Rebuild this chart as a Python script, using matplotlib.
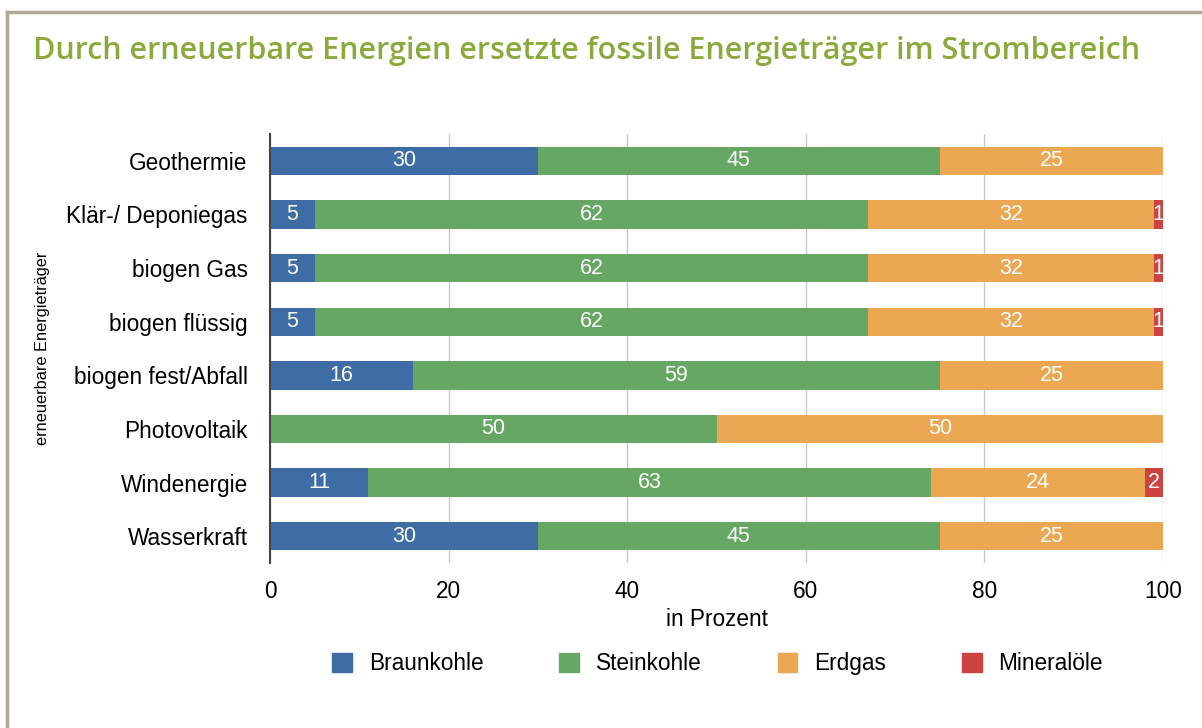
import matplotlib.pyplot as plt
from matplotlib.lines import Line2D
from matplotlib.patches import Patch

plt.rcParams['font.family'] = ['Liberation Sans', 'DejaVu Sans']

# categories from top to bottom
categories = ["Geothermie", "Klär-/ Deponiegas", "biogen Gas", "biogen flüssig",
              "biogen fest/Abfall", "Photovoltaik", "Windenergie", "Wasserkraft"]
braunkohle = [30, 5, 5, 5, 16, 0, 11, 30]
steinkohle = [45, 62, 62, 62, 59, 50, 63, 45]
erdgas = [25, 32, 32, 32, 25, 50, 24, 25]
mineraloele = [0, 1, 1, 1, 0, 0, 2, 0]

series_names = ["Braunkohle", "Steinkohle", "Erdgas", "Mineralöle"]
colors = ["#3e6da6", "#67a764", "#eba752", "#cc4441"]

fig = plt.figure(figsize=(12.02, 7.28), dpi=100)
ax = fig.add_axes([0.2246, 0.2266, 0.743, 0.5893])

y = list(range(len(categories)))
left = [0] * len(categories)
for vals, col in zip([braunkohle, steinkohle, erdgas, mineraloele], colors):
    ax.barh(y, vals, left=left, height=0.53, color=col, zorder=2)
    for i, v in enumerate(vals):
        if v > 0:
            ax.text(left[i] + v / 2, i, str(v), ha="center", va="center",
                    color="white", fontsize=15.5, zorder=3)
    left = [l + v for l, v in zip(left, vals)]

ax.set_xlim(0, 100)
ax.set_ylim(len(categories) - 0.5, -0.5)
ax.set_yticks(y)
ax.set_yticklabels(categories, fontsize=16.3)
ax.set_xticks([0, 20, 40, 60, 80, 100])
ax.tick_params(axis="both", length=0, labelsize=16.3, colors="black")
ax.tick_params(axis="y", pad=16)
ax.tick_params(axis="x", pad=12)
ax.grid(axis="x", color="#c8c8c8", linewidth=1, zorder=0)
for s in ["top", "right", "bottom"]:
    ax.spines[s].set_visible(False)
ax.spines["left"].set_color("#444444")
ax.spines["left"].set_linewidth(1.5)
ax.set_xlabel("in Prozent", fontsize=16.3, labelpad=4)
ax.set_ylabel("erneuerbare Energieträger", fontsize=11.8, labelpad=12)

handles = [Patch(color=c) for c in colors]
fig.legend(handles, series_names, loc="center", bbox_to_anchor=(0.597, 0.088),
           ncol=4, frameon=False, fontsize=16.3, handlelength=0.87, handleheight=0.87,
           handletextpad=0.74, columnspacing=3.36)

fig.text(0.0275, 0.93, "Durch erneuerbare Energien ersetzte fossile Energieträger im Strombereich",
         color="#8aab3b", fontsize=22, weight="semibold",
         family=["Open Sans", "DejaVu Sans"], va="center")

# frame lines
fig.add_artist(Line2D([0.0055, 0.0055], [0, 0.983], color="#aeab95", lw=2.5, transform=fig.transFigure))
fig.add_artist(Line2D([0.0055, 1.0], [0.983, 0.983], color="#aeab95", lw=2.5, transform=fig.transFigure))

fig.savefig("out.png", dpi=100)
